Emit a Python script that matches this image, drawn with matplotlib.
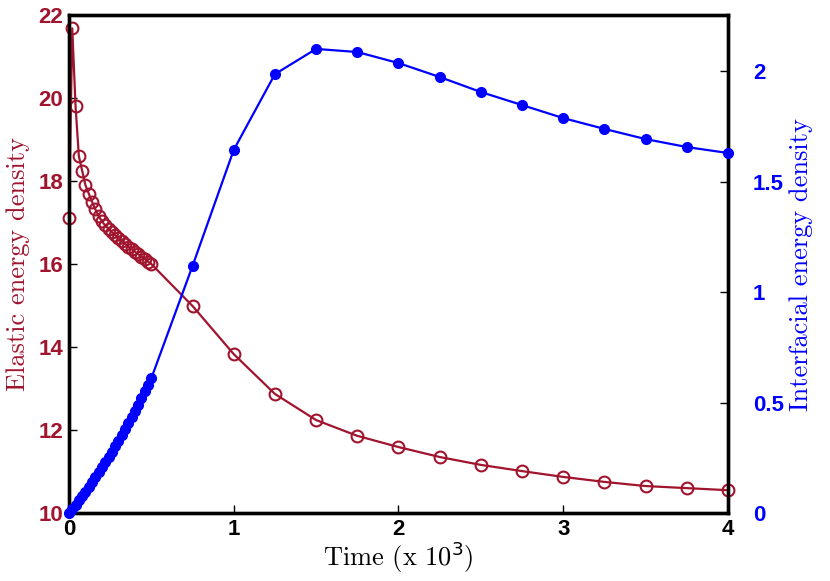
import matplotlib
matplotlib.use("Agg")
import matplotlib.pyplot as plt

# time in units of 10^3
time = [0.00, 0.02, 0.04, 0.06, 0.08, 0.10, 0.12, 0.14, 0.16, 0.18, 0.20,
        0.22, 0.24, 0.26, 0.28, 0.30, 0.32, 0.34, 0.36, 0.38, 0.40,
        0.42, 0.44, 0.46, 0.48, 0.50,
        0.75, 1.00, 1.25, 1.50, 1.75, 2.00, 2.25, 2.50, 2.75, 3.00,
        3.25, 3.50, 3.75, 4.00]

elastic = [17.12, 21.68, 19.80, 18.60, 18.25, 17.90, 17.70, 17.50, 17.32, 17.16, 17.03,
           16.93, 16.85, 16.77, 16.70, 16.63, 16.56, 16.49, 16.42, 16.36, 16.30,
           16.24, 16.18, 16.12, 16.06, 16.00,
           14.99, 13.83, 12.87, 12.24, 11.86, 11.59, 11.35, 11.16, 11.01, 10.87,
           10.75, 10.65, 10.60, 10.55]

interfacial = [0.000, 0.018, 0.037, 0.057, 0.077, 0.097, 0.118, 0.139, 0.161, 0.184, 0.206,
               0.230, 0.254, 0.278, 0.303, 0.328, 0.354, 0.381, 0.408, 0.435, 0.463,
               0.491, 0.520, 0.550, 0.579, 0.610,
               1.118, 1.643, 1.986, 2.100, 2.086, 2.036, 1.973, 1.905, 1.846, 1.787,
               1.738, 1.692, 1.656, 1.629]

red = '#A0142E'
blue = '#0000FF'
tick_font = 'Liberation Sans'
tick_size = 16

fig = plt.figure(figsize=(8.3, 5.81), dpi=100)
ax = fig.add_axes([0.0831, 0.117, 0.7940, 0.857])
ax2 = ax.twinx()

ax.plot(time, elastic, '-o', color=red, mfc='none', mec=red, ms=8.5, mew=1.5,
        lw=1.6, clip_on=False, zorder=3)
ax2.plot(time, interfacial, '-o', color=blue, ms=7, lw=1.6, clip_on=False, zorder=3)

ax.set_xlim(0, 4)
ax.set_ylim(10, 22)
ax2.set_ylim(0, 2.253)
ax.set_xticks([0, 1, 2, 3, 4])
ax.set_yticks([10, 12, 14, 16, 18, 20, 22])
ax2.set_yticks([0, 0.5, 1, 1.5, 2])
ax2.set_yticklabels(['0', '0.5', '1', '1.5', '2'])

for a in (ax, ax2):
    for s in a.spines.values():
        s.set_linewidth(2.4)
        s.set_color('black')

ax.tick_params(axis='x', direction='in', length=6, width=1, top=False, pad=4)
ax.tick_params(axis='y', direction='in', length=6, width=1, colors=red, pad=4)
ax2.tick_params(axis='y', direction='in', length=6, width=1, colors=blue, pad=18)
ax.tick_params(axis='y', color='black')
ax2.tick_params(axis='y', color='black')

for lab in ax.get_xticklabels() + ax.get_yticklabels() + ax2.get_yticklabels():
    lab.set_fontfamily(tick_font)
    lab.set_fontweight('bold')
    lab.set_fontsize(tick_size)

plt.rcParams['mathtext.fontset'] = 'cm'
ax.set_xlabel(r'Time (x 10$^3$)', fontname='cmr10', fontsize=19, labelpad=0)
ax.set_ylabel('Elastic energy density', fontname='cmr10', fontsize=19, color=red, labelpad=6)
ax2.set_ylabel('Interfacial energy density', fontname='cmr10', fontsize=19, color=blue, labelpad=4)

fig.savefig('out.png', dpi=100)
